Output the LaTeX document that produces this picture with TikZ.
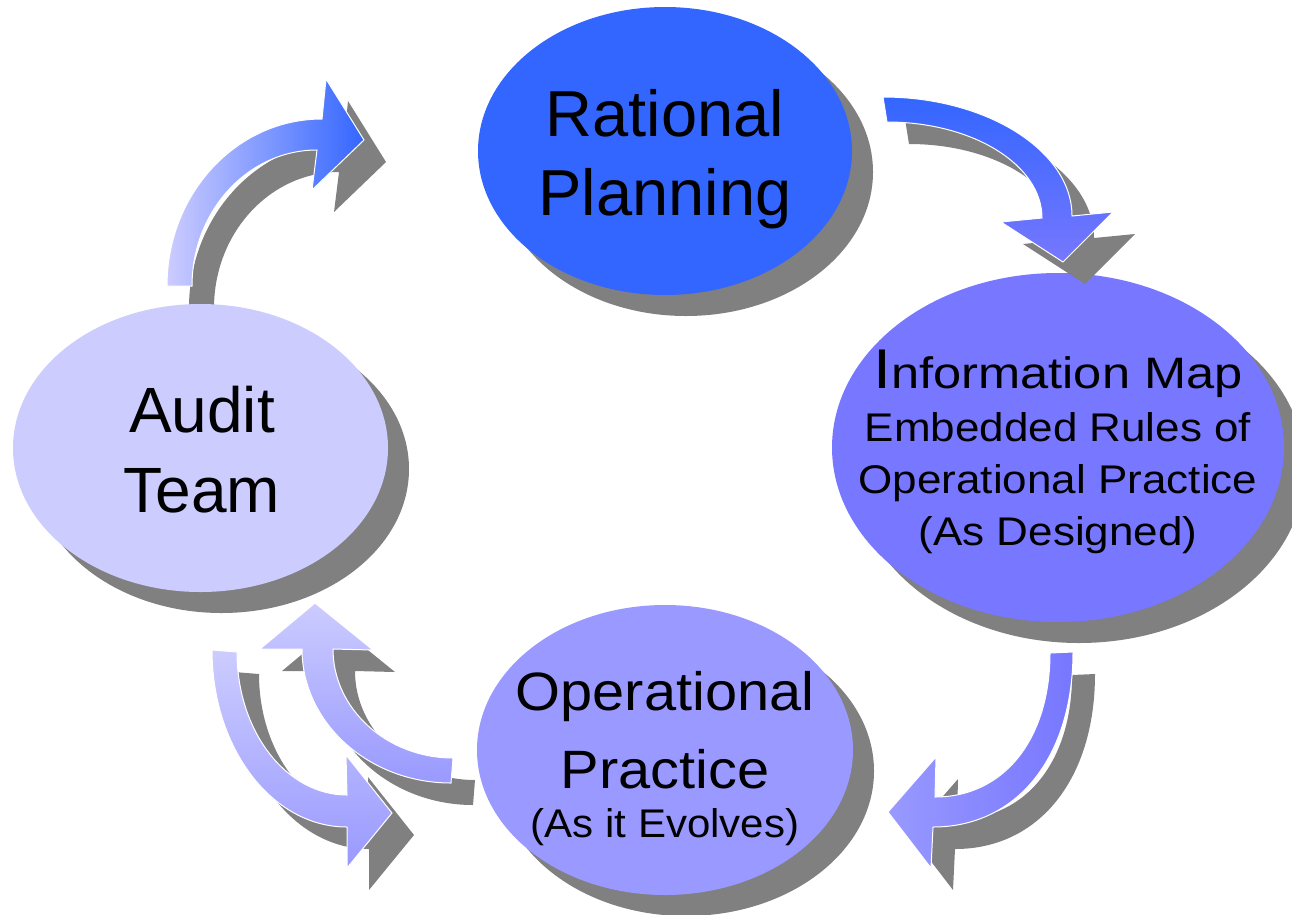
\documentclass[tikz,border=0pt]{standalone}
\usepackage{fontspec}
\setmainfont{Liberation Sans}
\usepackage{graphicx}
\usetikzlibrary{shapes.geometric,shadows}

\definecolor{planblue}{HTML}{3366FF}
\definecolor{mapblue}{HTML}{7777FF}
\definecolor{practiceblue}{HTML}{9999FF}
\definecolor{auditblue}{HTML}{CCCCFF}
\definecolor{shadowgray}{HTML}{808080}

% one line of label text: size, horizontal stretch, text
\newcommand\txtline[3]{\scalebox{#2}[1]{\fontsize{#1}{#1}\selectfont #3}}
% a bent block arrow with its offset shadow: shading options, outline path
\newcommand\bentarrow[2]{%
  \fill[shadowfill,shift={(22,22)}] #2;
  \shadedraw[arrowbody,#1] #2;}

\begin{document}
\begin{tikzpicture}[x=1pt,y=-1pt,
  shadowfill/.style={fill=shadowgray},
  arrowbody/.style={draw=white,line width=1pt},
  bubble/.style={ellipse,inner sep=0pt,draw=none,
    drop shadow={shadow xshift=21pt,shadow yshift=-21pt,opacity=1,fill=shadowgray}},
  lbl/.style={anchor=base,inner sep=0pt,text=black}]
\clip (0,0) rectangle (1292,914);

% Audit Team -> Rational Planning
\bentarrow{left color=auditblue,right color=planblue}{(167,286) .. controls (167,194) and (236,119) .. (322,119) -- (326,79) -- (364,140) -- (312,190) -- (317,150) .. controls (248,150) and (192,211) .. (192,286) -- cycle}

% the four stages
\node[bubble,fill=planblue,minimum width=374pt,minimum height=288pt] (plan) at (665,151) {};
\node[bubble,fill=mapblue,minimum width=452pt,minimum height=349pt] (map) at (1058,447.5) {};
\node[bubble,fill=auditblue,minimum width=375pt,minimum height=288pt] (audit) at (200.5,448) {};
\node[bubble,fill=practiceblue,minimum width=376pt,minimum height=290pt] (practice) at (665,750) {};

% Rational Planning -> Information Map
\bentarrow{top color=planblue,bottom color=mapblue}{(883,97) .. controls (987,97) and (1072,151) .. (1072,216) -- (1113,212) -- (1063,262) -- (1001,222) -- (1042,218) .. controls (1042,165) and (973,122) .. (887,122) -- cycle}

% Information Map -> Operational Practice
\bentarrow{left color=practiceblue,right color=mapblue}{(1073,652) .. controls (1073,757) and (1017,827) .. (933,827) -- (931,868) -- (888,812) -- (936,757) -- (935,797) .. controls (1004,797) and (1050,739) .. (1050,653) -- cycle}

% Operational Practice -> Audit Team
\bentarrow{top color=auditblue,bottom color=practiceblue}{(451,783) .. controls (369,783) and (302,723) .. (302,649) -- (260,649) -- (315,603) -- (373,650) -- (333,649) .. controls (333,709) and (387,758) .. (453,758) -- cycle}

% Audit Team -> Operational Practice
\bentarrow{top color=auditblue,bottom color=practiceblue}{(212,650) .. controls (212,748) and (272,827) .. (347,827) -- (347,868) -- (392,813) -- (346,755) -- (347,795) .. controls (286,795) and (237,731) .. (237,652) -- cycle}

% labels
\node[lbl] (plan1) at (665,136) {\txtline{65}{1}{Rational}};
\node[lbl] (plan2) at (665,215) {\txtline{65}{1}{Planning}};
\node[lbl] (audit1) at (202,432) {\txtline{64}{1}{Audit}};
\node[lbl] (audit2) at (202,512) {\txtline{64}{1}{Team}};
\node[lbl] (map1) at (1058,388) {\txtline{44}{1.15}{{\fontsize{56}{56}\selectfont I}nformation Map}};
\node[lbl] (map2) at (1058,441) {\txtline{40}{1.1}{Embedded Rules of}};
\node[lbl] (map3) at (1058,493) {\txtline{40}{1.1}{Operational Practice}};
\node[lbl] (map4) at (1058,545) {\txtline{40}{1.1}{(As Designed)}};
\node[lbl] (prac1) at (665,710) {\txtline{54}{1.07}{Operational}};
\node[lbl] (prac2) at (665,788) {\txtline{54}{1.07}{Practice}};
\node[lbl] (prac3) at (665,837) {\txtline{40}{1.05}{(As it Evolves)}};
\end{tikzpicture}
\end{document}
